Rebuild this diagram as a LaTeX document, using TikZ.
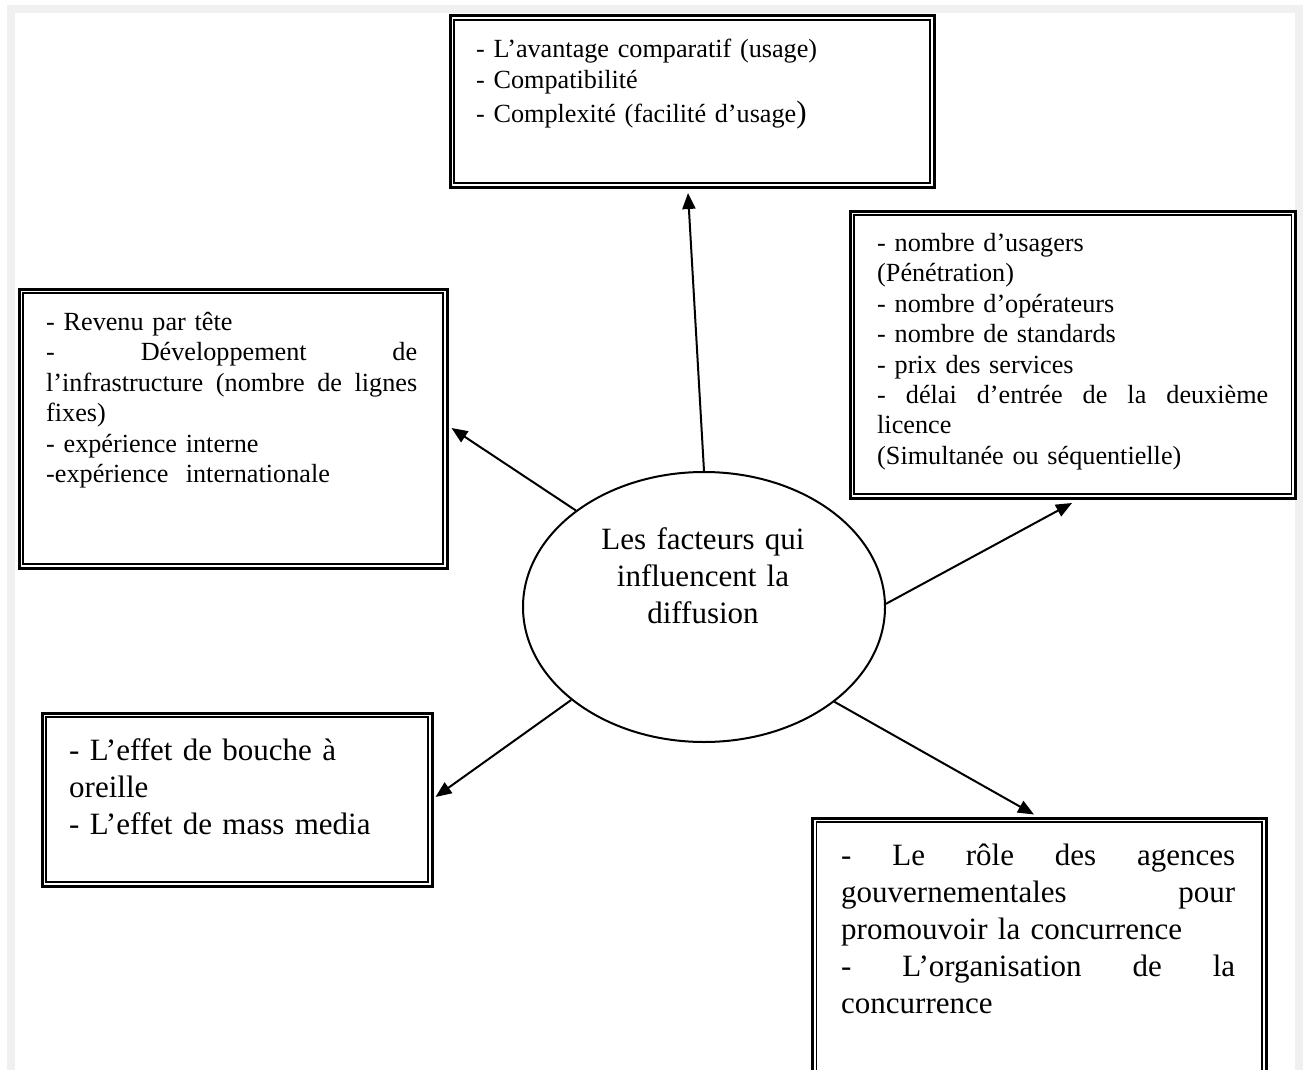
\documentclass[tikz,border=0pt]{standalone}
\usepackage{fontspec}
\setmainfont{Liberation Serif}
\usetikzlibrary{arrows.meta,calc,shapes.geometric}
\definecolor{framegray}{HTML}{F0F0F0}
\newcommand{\natspace}{\spaceskip=0pt\xspaceskip=0pt\relax}
\tikzset{
  boxouter/.style={draw, line width=3pt, rectangle, inner sep=0pt, anchor=north west},
  boxinner/.style={line width=1.6pt},
  smalltxt/.style={anchor=base west, inner sep=0pt, font=\fontsize{26.2}{30.5}\selectfont\natspace},
  bigtxt/.style={anchor=base west, inner sep=0pt, font=\fontsize{31}{37}\selectfont\natspace},
  arr/.style={line width=2pt, -{Triangle[length=16pt,width=13pt]}},
}
\newcommand{\innerframe}[1]{%
  \draw[boxinner] ([shift={(5.5,5.5)}]#1.north west) rectangle ([shift={(-5.5,-5.5)}]#1.south east);}
\newcommand{\jline}[2]{\makebox[#1][s]{\spaceskip=.25em plus 1fil\relax #2}}
\begin{document}
\begin{tikzpicture}[x=1pt,y=-1pt]
\useasboundingbox (0,0) rectangle (1304,1070);
\fill[white] (0,0) rectangle (1304,1070);
\fill[framegray] (7,5) rectangle (1303,1070);
\fill[white] (15,13) rectangle (1295,1070);

% boxes
\node[boxouter, minimum width=484pt, minimum height=171pt] (T) at (448.5,14.5) {};
\innerframe{T}
\node[boxouter, minimum width=445.5pt, minimum height=287pt] (R) at (848.5,209.5) {};
\innerframe{R}
\node[boxouter, minimum width=428pt, minimum height=279pt] (L) at (17.5,287.5) {};
\innerframe{L}
\node[boxouter, minimum width=390pt, minimum height=173pt] (BL) at (40.5,711.5) {};
\innerframe{BL}
\node[boxouter, minimum width=453.5pt, minimum height=257pt] (BR) at (811,816.5) {};
\innerframe{BR}

% texts
\node[smalltxt, text width=440pt] (Ttext) at (476,58) {%
- L’avantage comparatif (usage)\\
- Compatibilité\\[4pt]
- Complexité (facilité d’usage{\fontsize{31}{30}\selectfont )}};

\node[smalltxt, text width=391pt] (Rtext) at (877,251) {%
- nombre d’usagers\\
(Pénétration)\\
- nombre d’opérateurs\\
- nombre de standards\\
- prix des services\\
\jline{391pt}{- délai d’entrée de la deuxième}\\
licence\\
(Simultanée ou séquentielle)};

\node[smalltxt, text width=371pt] (Ltext) at (46,330) {%
- Revenu par tête\\
\jline{371pt}{- Développement de}\\
\jline{371pt}{l’infrastructure (nombre de lignes}\\
fixes)\\
- expérience interne\\
-expérience\ \ internationale};

\node[bigtxt, text width=355pt] (BLtext) at (69,760) {%
- L’effet de bouche à\\
oreille\\
- L’effet de mass media};

\node[bigtxt, text width=394pt] (BRtext) at (841,865) {%
\jline{394pt}{- Le rôle des agences}\\
\jline{394pt}{gouvernementales pour}\\
promouvoir la concurrence\\
\jline{394pt}{- L’organisation de la}\\
concurrence};

% central ellipse
\node[draw, ellipse, line width=2pt, minimum width=362pt, minimum height=270pt, inner sep=0pt] (E) at (704,607) {};
\node[anchor=base, inner sep=0pt, text width=300pt, font=\fontsize{31}{37}\selectfont\natspace] (Etext) at (703,549) {\centering Les facteurs qui\\ influencent la\\ diffusion\par};

% connectors
\draw[arr] (E.90) -- ($(T.south west)+(239.5,4.5)$);
\draw[arr] (E.143.6) -- ($(L.north east)+(3,140.5)$);
\draw[arr] (E.1.3) -- ($(R.south west)+(223.5,3.5)$);
\draw[arr] (E.215.2) -- ($(BL.north east)+(2,85.5)$);
\draw[arr] (E.-36) -- ($(BR.north west)+(223,-2)$);
\end{tikzpicture}
\end{document}
